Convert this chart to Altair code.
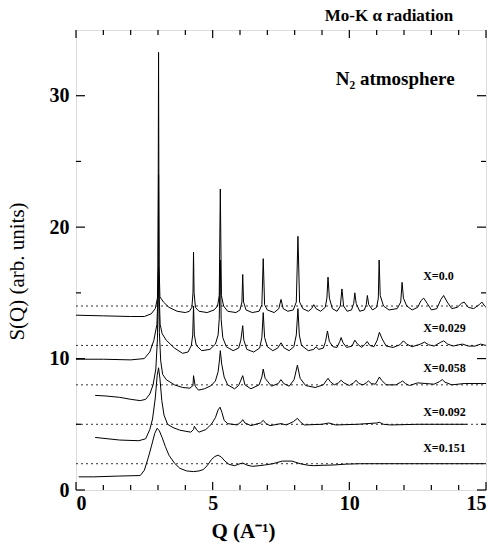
import altair as alt
import pandas as pd

# ---- data ----
series_names = ["X=0.0", "X=0.029", "X=0.058", "X=0.092", "X=0.151"]
baselines = [14.0, 11.0, 8.0, 5.0, 2.0]
label_s = [16.3, 12.3, 9.25, 5.9, 3.2]
label_q = 12.7

q_00 = [0.0, 1.0, 2.0, 2.5, 2.75, 2.9, 2.98, 3.0, 3.02, 3.04, 3.07, 3.2, 3.4, 3.7, 4.0, 4.15, 4.24, 4.28, 4.3, 4.32, 4.37, 4.5, 4.8, 5.05, 5.18, 5.24, 5.28, 5.32, 5.4, 5.55, 5.85, 6.0, 6.07, 6.1, 6.13, 6.22, 6.45, 6.7, 6.8, 6.85, 6.9, 7.0, 7.25, 7.42, 7.5, 7.58, 7.75, 7.95, 8.06, 8.12, 8.18, 8.3, 8.5, 8.62, 8.7, 8.78, 8.95, 9.12, 9.18, 9.22, 9.27, 9.38, 9.55, 9.67, 9.73, 9.79, 9.92, 10.08, 10.16, 10.2, 10.25, 10.38, 10.55, 10.62, 10.66, 10.71, 10.85, 11.0, 11.06, 11.09, 11.13, 11.25, 11.45, 11.75, 11.88, 11.93, 11.98, 12.1, 12.3, 12.5, 12.62, 12.72, 12.85, 13.0, 13.2, 13.35, 13.45, 13.58, 13.75, 13.95, 14.1, 14.2, 14.35, 14.55, 14.75, 14.85, 14.95, 15.0]
s_00 = [13.3, 13.25, 13.2, 13.2, 13.4, 13.8, 14.6, 17.0, 33.3, 17.0, 14.7, 14.3, 13.9, 13.6, 13.5, 13.6, 13.9, 15.0, 18.1, 15.0, 13.9, 13.6, 13.5, 13.7, 14.0, 14.8, 22.9, 14.8, 14.0, 13.6, 13.5, 13.7, 14.3, 16.4, 14.3, 13.7, 13.5, 13.6, 14.1, 17.6, 14.1, 13.7, 13.5, 13.8, 14.5, 13.8, 13.6, 13.7, 14.3, 19.3, 14.3, 13.8, 13.6, 13.8, 14.1, 13.8, 13.6, 13.9, 14.6, 16.2, 14.6, 13.8, 13.6, 14.0, 15.3, 14.0, 13.6, 13.7, 14.2, 15.0, 14.2, 13.6, 13.7, 14.1, 14.8, 14.1, 13.7, 13.9, 14.6, 17.5, 14.8, 14.0, 13.7, 13.8, 14.3, 15.8, 14.6, 14.0, 13.7, 13.9, 14.4, 14.6, 14.2, 13.7, 13.8, 14.5, 14.8, 14.3, 13.8, 13.9, 14.2, 14.3, 13.9, 13.8, 14.1, 14.3, 14.0, 13.9]

q_029 = [0.0, 1.0, 2.0, 2.5, 2.7, 2.85, 2.96, 3.0, 3.02, 3.04, 3.08, 3.15, 3.3, 3.6, 3.9, 4.1, 4.22, 4.27, 4.3, 4.33, 4.4, 4.6, 4.9, 5.1, 5.2, 5.24, 5.28, 5.31, 5.37, 5.5, 5.75, 5.95, 6.03, 6.1, 6.14, 6.25, 6.5, 6.72, 6.8, 6.85, 6.9, 7.0, 7.2, 7.38, 7.5, 7.62, 7.8, 7.97, 8.06, 8.12, 8.17, 8.25, 8.5, 8.7, 8.78, 8.88, 9.05, 9.13, 9.2, 9.27, 9.4, 9.55, 9.65, 9.7, 9.77, 9.9, 10.1, 10.2, 10.3, 10.45, 10.58, 10.65, 10.75, 10.9, 11.02, 11.1, 11.2, 11.35, 11.6, 11.85, 11.98, 12.1, 12.3, 12.6, 12.75, 12.9, 13.1, 13.35, 13.45, 13.6, 13.8, 14.0, 14.15, 14.35, 14.6, 14.8, 15.0]
s_029 = [9.95, 9.95, 9.9, 10.0, 10.5, 11.4, 12.6, 15.0, 24.0, 15.0, 12.6, 11.9, 11.4, 10.8, 10.4, 10.5, 11.0, 11.8, 14.0, 11.8, 11.0, 10.6, 10.7, 11.1, 11.8, 13.0, 17.5, 13.0, 11.6, 10.9, 10.6, 10.8, 11.4, 12.5, 11.4, 10.7, 10.5, 10.8, 11.6, 13.5, 11.6, 10.9, 10.6, 10.8, 11.2, 10.8, 10.6, 10.9, 11.8, 13.8, 11.8, 11.0, 10.6, 10.7, 10.9, 10.7, 10.8, 11.3, 12.1, 11.3, 10.9, 10.85, 11.3, 11.6, 11.2, 10.85, 10.95, 11.4, 11.1, 10.85, 11.1, 11.3, 11.0, 10.9, 11.4, 12.0, 11.5, 10.95, 10.85, 11.05, 11.35, 11.1, 10.9, 11.1, 11.25, 11.05, 10.95, 11.25, 11.35, 11.1, 10.95, 11.05, 11.1, 10.95, 10.95, 11.1, 11.0]

q_058 = [0.7, 1.1, 1.6, 2.0, 2.35, 2.55, 2.7, 2.82, 2.92, 2.98, 3.02, 3.05, 3.1, 3.17, 3.3, 3.6, 3.9, 4.17, 4.28, 4.3, 4.36, 4.48, 4.7, 4.95, 5.1, 5.2, 5.25, 5.28, 5.33, 5.42, 5.55, 5.8, 5.95, 6.1, 6.18, 6.4, 6.7, 6.8, 6.85, 6.92, 7.15, 7.4, 7.5, 7.6, 7.8, 7.98, 8.1, 8.2, 8.4, 8.75, 9.05, 9.15, 9.22, 9.3, 9.45, 9.6, 9.7, 9.8, 10.0, 10.15, 10.25, 10.35, 10.5, 10.62, 10.7, 10.8, 10.95, 11.05, 11.1, 11.18, 11.35, 11.7, 11.88, 11.95, 12.05, 12.2, 12.5, 12.8, 13.1, 13.3, 13.4, 13.5, 13.75, 14.2, 14.85, 15.0]
s_058 = [7.2, 7.15, 7.05, 6.9, 6.8, 6.9, 7.3, 8.0, 9.2, 11.5, 17.0, 12.0, 9.8, 8.8, 8.4, 8.0, 7.8, 7.75, 7.95, 8.7, 7.9, 7.6, 7.7, 7.95, 8.3, 9.0, 9.9, 10.6, 9.6, 8.6, 8.0, 7.7, 7.95, 8.7, 8.0, 7.7, 8.0, 8.6, 9.2, 8.5, 7.9, 8.1, 8.4, 8.1, 7.9, 8.4, 9.5, 8.5, 7.95, 7.8, 8.0, 8.3, 8.5, 8.25, 8.0, 8.15, 8.35, 8.15, 7.95, 8.15, 8.35, 8.1, 8.0, 8.15, 8.3, 8.1, 8.05, 8.4, 8.6, 8.35, 8.0, 8.0, 8.2, 8.3, 8.1, 7.95, 8.15, 8.1, 8.05, 8.25, 8.4, 8.2, 8.0, 8.1, 8.1, 8.1]

q_092 = [0.7, 1.6, 2.3, 2.55, 2.7, 2.8, 2.9, 2.97, 3.02, 3.07, 3.14, 3.22, 3.35, 3.55, 3.8, 4.2, 4.3, 4.33, 4.42, 4.5, 4.75, 4.95, 5.1, 5.2, 5.27, 5.34, 5.42, 5.55, 5.9, 6.05, 6.1, 6.18, 6.4, 6.75, 6.85, 6.95, 7.1, 7.5, 7.7, 7.95, 8.1, 8.2, 8.35, 9.0, 9.25, 9.5, 10.3, 11.0, 11.1, 11.25, 11.5, 12.5, 13.5, 14.3]
s_092 = [4.0, 3.8, 3.75, 3.9, 4.6, 5.4, 7.0, 8.7, 9.3, 8.5, 6.8, 5.7, 5.0, 4.75, 4.55, 4.4, 4.6, 4.85, 4.55, 4.4, 4.6, 5.0, 5.5, 6.1, 6.3, 5.9, 5.3, 5.05, 4.95, 5.2, 5.35, 5.1, 4.9, 5.1, 5.3, 5.05, 4.9, 5.05, 4.95, 5.2, 5.45, 5.2, 4.95, 5.0, 5.1, 4.95, 5.0, 5.1, 5.15, 5.0, 4.95, 5.0, 5.0, 5.0]

q_151 = [0.1, 0.65, 1.55, 2.35, 2.5, 2.65, 2.78, 2.88, 2.97, 3.05, 3.15, 3.27, 3.4, 3.6, 3.8, 4.05, 4.3, 4.5, 4.65, 4.8, 4.95, 5.08, 5.2, 5.32, 5.45, 5.6, 5.8, 6.0, 6.1, 6.25, 6.45, 6.7, 6.9, 7.2, 7.55, 7.9, 8.2, 8.5, 8.7, 9.0, 9.4, 9.9, 10.4, 12.0, 13.5, 15.0]
s_151 = [1.0, 1.0, 1.06, 1.1, 1.5, 2.5, 3.5, 4.3, 4.7, 4.5, 4.0, 3.3, 2.65, 2.05, 1.65, 1.45, 1.4, 1.45, 1.55, 1.85, 2.3, 2.55, 2.65, 2.5, 2.2, 1.95, 1.85, 2.0, 2.05, 1.9, 1.8, 1.85, 1.9, 2.0, 2.2, 2.2, 2.0, 1.88, 1.85, 1.88, 1.9, 1.97, 2.0, 2.0, 2.0, 2.0]

x_major = [0, 5, 10, 15]
x_minor = [1, 2, 3, 4, 6, 7, 8, 9, 11, 12, 13, 14]
y_major = [0, 10, 20, 30]
y_minor = [5, 15, 25]

# ---- build tables ----
curves_q = [q_00, q_029, q_058, q_092, q_151]
curves_s = [s_00, s_029, s_058, s_092, s_151]
rows = []
for name, qs, ss in zip(series_names, curves_q, curves_s):
    for i, (q, s) in enumerate(zip(qs, ss)):
        rows.append({"series": name, "Q": q, "S": s, "i": i})
curve_df = pd.DataFrame(rows)

base_rows = []
for name, b in zip(series_names, baselines):
    base_rows.append({"series": name, "Q": 0.0, "S": b})
    base_rows.append({"series": name, "Q": 15.0, "S": b})
base_df = pd.DataFrame(base_rows)

label_df = pd.DataFrame({"label": series_names, "Q": [label_q] * 5, "S": label_s})

W, H = 410, 460
FONT = "Liberation Serif"

xs = alt.Scale(domain=[0, 15], nice=False, zero=False)
ys = alt.Scale(domain=[0, 35], nice=False, zero=False)

x_axis = alt.Axis(values=x_major, ticks=False, domain=False, grid=False,
                  labelFont=FONT, labelFontSize=20, labelFontWeight="bold",
                  labelColor="black", labelPadding=3,
                  title="Q  (A⁻¹)", titleFont=FONT, titleFontSize=21,
                  titleFontWeight="bold", titleColor="black",
                  titleX=167, titleY=41, titleBaseline="middle")
y_axis = alt.Axis(values=y_major, ticks=False, domain=False, grid=False,
                  labelFont=FONT, labelFontSize=20, labelFontWeight="bold",
                  labelColor="black", labelPadding=7,
                  title="S(Q)  (arb. units)", titleFont=FONT, titleFontSize=21,
                  titleFontWeight="normal", titleColor="black",
                  titleX=-59, titleY=241, titleBaseline="middle", titleAlign="center")

lines = alt.Chart(curve_df).mark_line(color="black", strokeWidth=1.0).encode(
    x=alt.X("Q:Q", scale=xs, axis=x_axis),
    y=alt.Y("S:Q", scale=ys, axis=y_axis),
    detail="series:N",
    order="i:Q",
)

dotted = alt.Chart(base_df).mark_line(color="#333333", strokeWidth=1.0, strokeDash=[2, 3]).encode(
    x=alt.X("Q:Q", scale=xs),
    y=alt.Y("S:Q", scale=ys),
    detail="series:N",
)

labels = alt.Chart(label_df).mark_text(align="left", baseline="middle", font=FONT,
                                        fontSize=12, fontWeight="bold", color="black").encode(
    x=alt.X("Q:Q", scale=xs), y=alt.Y("S:Q", scale=ys), text="label:N")

ann_df = pd.DataFrame({"t": ["N₂  atmosphere"], "Q": [13.85], "S": [31.3]})
ann = alt.Chart(ann_df).mark_text(align="right", baseline="middle", font=FONT,
                                   fontSize=19, fontWeight="bold", color="black").encode(
    x=alt.X("Q:Q", scale=xs), y=alt.Y("S:Q", scale=ys), text="t:N")

top_df = pd.DataFrame({"t": ["Mo-K α   radiation"], "Q": [13.8], "S": [36.1]})
top = alt.Chart(top_df).mark_text(align="right", baseline="middle", font=FONT,
                                   fontSize=17, fontWeight="bold", color="black").encode(
    x=alt.X("Q:Q", scale=xs), y=alt.Y("S:Q", scale=ys), text="t:N")

# inward ticks on all four sides
def xticks(vals, ln):
    d = pd.DataFrame({"pos": vals})
    b = alt.Chart(d).mark_rule(color="black", strokeWidth=1.2).encode(
        x=alt.X("pos:Q", scale=xs), y=alt.value(H), y2=alt.value(H - ln))
    t = alt.Chart(d).mark_rule(color="black", strokeWidth=1.2).encode(
        x=alt.X("pos:Q", scale=xs), y=alt.value(0), y2=alt.value(ln))
    return b + t

def yticks(vals, ln):
    d = pd.DataFrame({"pos": vals})
    l = alt.Chart(d).mark_rule(color="black", strokeWidth=1.2).encode(
        y=alt.Y("pos:Q", scale=ys), x=alt.value(0), x2=alt.value(ln))
    r = alt.Chart(d).mark_rule(color="black", strokeWidth=1.2).encode(
        y=alt.Y("pos:Q", scale=ys), x=alt.value(W), x2=alt.value(W - ln))
    return l + r

chart = alt.layer(
    dotted, lines, labels, ann, top,
    xticks(x_major, 8), xticks(x_minor, 5), yticks(y_major, 9), yticks(y_minor, 5),
).properties(
    width=W, height=H,
    padding={"left": 76, "top": 30, "right": 6, "bottom": 57},
    autosize=alt.AutoSizeParams(type="none"),
).configure_view(stroke="black", strokeWidth=1.5).configure(background="white")

chart.save("out.html", embed_options={"renderer": "svg", "actions": False})
